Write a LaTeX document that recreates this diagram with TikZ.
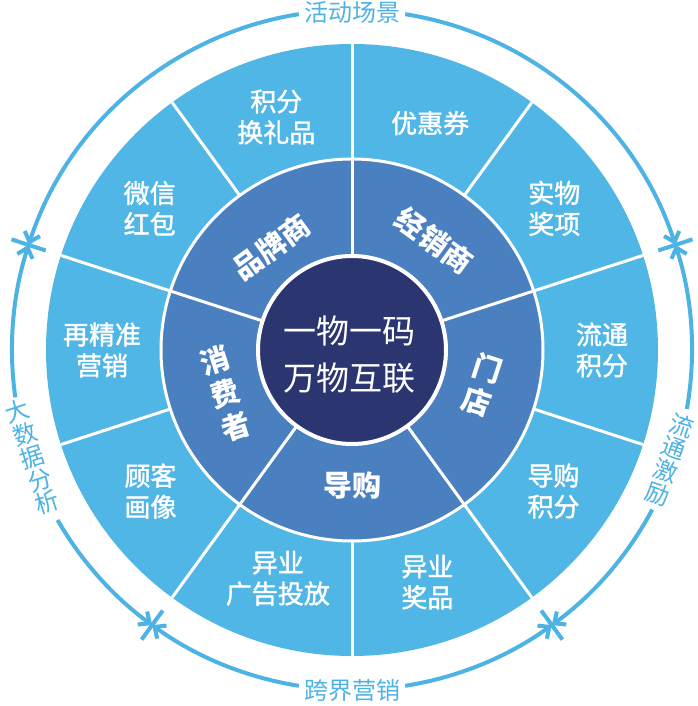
\documentclass[tikz,border=0pt]{standalone}
\usepackage{fontspec}
\setmainfont{Noto Sans CJK SC}
\newfontfamily\medfont{Noto Sans CJK SC}[FakeBold=1.5]
\usetikzlibrary{arrows.meta}
\definecolor{outerc}{RGB}{80,182,230}
\definecolor{midc}{RGB}{74,127,192}
\definecolor{innerc}{RGB}{43,53,112}
\definecolor{arcc}{RGB}{77,178,228}
\begin{document}
\begin{tikzpicture}[x=1pt,y=1pt,
  outerlbl/.style={text=white, font=\medfont\fontsize{26}{31}\selectfont, align=center, inner sep=0pt},
  midlbl/.style={text=white, font=\fontsize{29}{35}\selectfont\bfseries, align=center, inner sep=0pt},
  centerlbl/.style={text=white, font=\fontsize{33}{47}\selectfont, align=center, inner sep=0pt},
  ringlbl/.style={text=arcc, font=\fontsize{24}{24}\selectfont, align=center, inner sep=0pt},
  sep/.style={white, line width=3pt},
  arcline/.style={arcc, line width=4pt},
  tipstart/.style={{Straight Barb[length=9pt,width=16pt]}-},
  tipend/.style={-{Straight Barb[length=9pt,width=16pt]}},
]
\useasboundingbox (-352,-356) rectangle (345,350);
% rings
\fill[outerc] (0,0) circle[radius=306];
\fill[midc] (0,0) circle[radius=191];
\draw[sep] (0,0) circle[radius=191];
\foreach \a in {126,54,342,270,198} \draw[sep] (\a:191) -- (\a:306);
\foreach \a in {90,18,306,234,162} \draw[sep] (\a:95) -- (\a:306);
\node[circle, fill=innerc, draw=white, line width=4pt, minimum size=188pt, inner sep=0pt] (hub) at (0,0) {};
\node[centerlbl] (core) at (-3,-5) {一物一码\\万物互联};
% middle ring labels
\node[midlbl, rotate=36] (ppm) at (128:131) {品牌商};
\node[midlbl, rotate=-36] (jxs) at (53:137) {经销商};
\node[midlbl, rotate=-18] (md) at (-15:135) {门\\店};
\node[midlbl] (dg) at (270:135) {导购};
\node[midlbl, rotate=18] (xfz) at (199:134) {消\\费\\者};
% outer ring labels
\node[outerlbl] (jfhl) at (108:245) {积分\\换礼品};
\node[outerlbl] (yhq) at (71:240) {优惠券};
\node[outerlbl] (swjx) at (35:247) {实物\\奖项};
\node[outerlbl] (ltjf) at (0:250) {流通\\积分};
\node[outerlbl] (dgjf) at (-35:246) {导购\\积分};
\node[outerlbl] (yyjp) at (-72:244) {异业\\奖品};
\node[outerlbl] (yygg) at (-108:240) {异业\\广告投放};
\node[outerlbl] (gkhx) at (-145:246) {顾客\\画像};
\node[outerlbl] (zjz) at (180:250) {再精准\\营销};
\node[outerlbl] (wxhb) at (145:247) {微信\\红包};
% outer arcs
\draw[arcline, tipstart] (18:340) arc[start angle=18, end angle=81, radius=340];
\draw[arcline, tipend] (99:340) arc[start angle=99, end angle=162, radius=340];
\draw[arcline, tipstart] (162:340) arc[start angle=162, end angle=188, radius=340];
\draw[arcline, tipend] (210:340) arc[start angle=210, end angle=234, radius=340];
\draw[arcline, tipstart] (234:340) arc[start angle=234, end angle=261, radius=340];
\draw[arcline, tipend] (279:340) arc[start angle=279, end angle=306, radius=340];
\draw[arcline, tipstart] (306:340) arc[start angle=306, end angle=332, radius=340];
\draw[arcline, tipend] (350:340) arc[start angle=350, end angle=378, radius=340];
\foreach \a in {18,162,234,306} \draw[arcline] (\a:322) -- (\a:358);
% ring labels
\node[ringlbl] (hdcj) at (90:338) {活动场景};
\node[ringlbl] (kjyx) at (270:340) {跨界营销};
\node[ringlbl, rotate=18] (dsjfx) at (198.5:337) {大\\数\\据\\分\\析};
\node[ringlbl, rotate=-19] (ltjl) at (-19:336) {流\\通\\激\\励};
\end{tikzpicture}
\end{document}
